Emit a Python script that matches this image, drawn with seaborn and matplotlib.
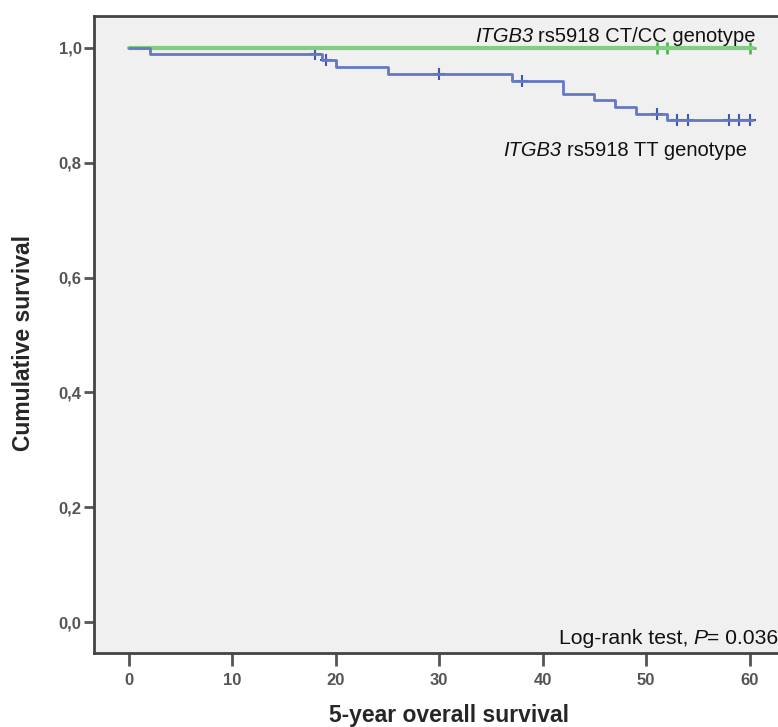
import numpy as np
import pandas as pd
import matplotlib
matplotlib.use('Agg')
import matplotlib.pyplot as plt
import seaborn as sns

# Kaplan-Meier step values (months, survival)
tt_times = [0, 2, 18.7, 20, 25, 37, 42, 45, 47, 49, 52, 60.3]
tt_surv = [1.0, 0.989, 0.978, 0.966, 0.955, 0.943, 0.920, 0.909, 0.897, 0.885, 0.874, 0.874]
tt_censor = [18, 19, 30, 38, 51, 53, 54, 58, 59, 60]

ct_times = [0, 60.3]
ct_surv = [1.0, 1.0]
ct_censor = [51, 52, 60]

x_ticks = [0, 10, 20, 30, 40, 50, 60]
y_ticks = [0.0, 0.2, 0.4, 0.6, 0.8, 1.0]
y_ticklabels = ['0,0', '0,2', '0,4', '0,6', '0,8', '1,0']

sns.set_style('white')
plt.rcParams['font.family'] = ['Liberation Sans', 'DejaVu Sans']

green_line = '#80cf80'
green_mark = '#3db43d'
blue_line = '#6479c4'
blue_mark = '#3f57b0'

tt = pd.DataFrame({'t': tt_times, 's': tt_surv})
ct = pd.DataFrame({'t': ct_times, 's': ct_surv})


def surv_at(times, surv, t):
    idx = np.searchsorted(times, t, side='right') - 1
    return surv[idx]


tt_c = pd.DataFrame({'t': tt_censor, 's': [surv_at(tt_times, tt_surv, c) for c in tt_censor]})
ct_c = pd.DataFrame({'t': ct_censor, 's': [1.0] * len(ct_censor)})

fig = plt.figure(figsize=(7.78, 7.27), dpi=100)
ax = fig.add_axes([94 / 778, 1 - 653.3 / 727, (790 - 94) / 778, (653.3 - 15.7) / 727])
ax.set_facecolor('#f0f0f0')

sns.lineplot(data=ct, x='t', y='s', drawstyle='steps-post', color=green_line, lw=3, ax=ax)
sns.lineplot(data=tt, x='t', y='s', drawstyle='steps-post', color=blue_line, lw=2, ax=ax)
sns.scatterplot(data=ct_c, x='t', y='s', marker='+', s=85, color=green_mark, linewidth=1.8, ax=ax)
sns.scatterplot(data=tt_c, x='t', y='s', marker='+', s=85, color=blue_mark, linewidth=1.5, ax=ax)

ax.set_xlim(-3.38, 63.9)
ax.set_ylim(-0.0545, 1.056)
ax.set_xticks(x_ticks)
ax.set_yticks(y_ticks)
ax.set_yticklabels(y_ticklabels)
ax.tick_params(axis='both', bottom=True, left=True, direction='out', width=2,
               color='#555555', labelsize=12, labelcolor='#555555')
ax.tick_params(axis='x', length=9, pad=5)
ax.tick_params(axis='y', length=7, pad=2)
for lab in ax.get_xticklabels() + ax.get_yticklabels():
    lab.set_fontweight('bold')

for side in ['left', 'bottom', 'top']:
    ax.spines[side].set_color('#444444')
    ax.spines[side].set_linewidth(2)
ax.spines['right'].set_visible(False)

ax.set_xlabel('5-year overall survival', fontsize=16.5, fontweight='bold')
ax.set_ylabel('Cumulative survival', fontsize=16.5, fontweight='bold')
ax.xaxis.set_label_coords(0.510, -0.080)
ax.yaxis.set_label_coords(-0.085, 0.487)


def label(x, y, parts, size=14.5):
    # parts: list of (text, italic); drawn right-aligned, chained right to left
    prev = None
    for txt, it in reversed(parts):
        style = 'italic' if it else 'normal'
        if prev is None:
            prev = ax.text(x, y, txt, ha='right', va='bottom', fontsize=size,
                           style=style, color='#111111')
        else:
            prev = ax.annotate(txt, xy=(0, 0), xycoords=prev, xytext=(-3.5, 0),
                               textcoords='offset points', ha='right', va='bottom',
                               fontsize=size, style=style, color='#111111')


label(60.6, 1.004, [('ITGB3', True), ('rs5918 CT/CC genotype', False)])
label(59.7, 0.805, [('ITGB3', True), ('rs5918 TT genotype', False)])

# log-rank line: "Log-rank test, " + italic P + "= 0.036"
t3 = ax.text(62.75, -0.046, '= 0.036', ha='right', va='bottom', fontsize=15.2, color='#111111')
t2 = ax.annotate('P', xy=(0, 0), xycoords=t3, ha='right', va='bottom',
                 fontsize=15.2, style='italic', color='#111111')
ax.annotate('Log-rank test,', xy=(0, 0), xycoords=t2, xytext=(-3.5, 0),
            textcoords='offset points', ha='right', va='bottom', fontsize=15.2, color='#111111')

fig.savefig('out.png', dpi=100)
